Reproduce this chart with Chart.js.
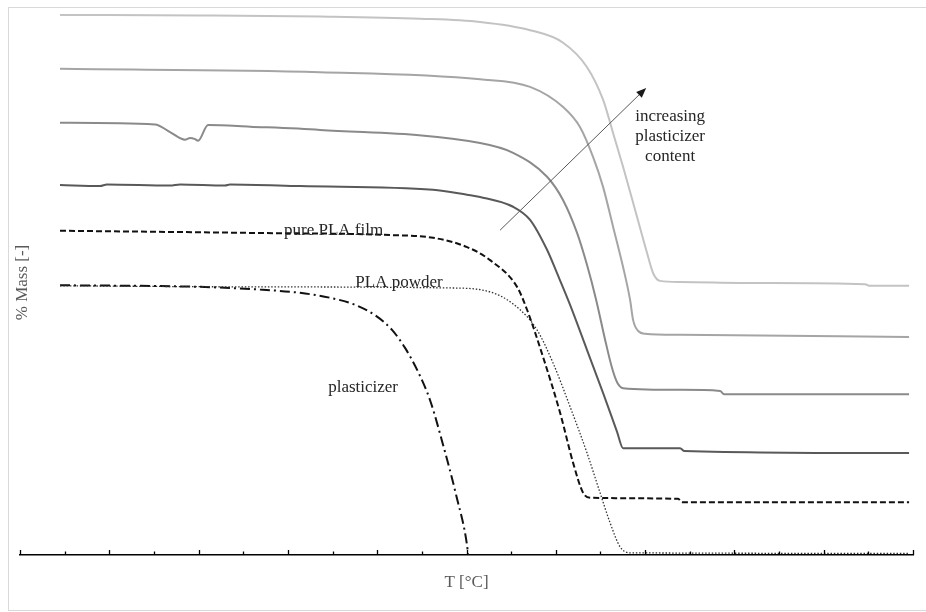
<!DOCTYPE html>
<html>
<head>
<meta charset="utf-8">
<script src="https://cdn.jsdelivr.net/npm/chart.js@4/dist/chart.umd.min.js"></script>
<style>
  html, body { margin: 0; padding: 0; background: #fff; }
  #wrap { width: 926px; height: 612px; position: relative; }
</style>
</head>
<body>
<div id="wrap"><canvas id="tga"></canvas></div>
<script>
// x axis: temperature (no labels in the original), 0..500 with a tick every 25
const tempMin = 0;
const tempMax = 500;
const tempStep = 25;

// each series: [temperature, % mass] (curves are stacked, no y labels)
const film4 = [[22.4,99.1],[100.8,99.0],[168,98.8],[224,98.4],[257.6,97.8],[285.6,96.3],[304.1,94.0],[317.5,89.5],[326.5,83.5],[332.1,77.4],[337.7,71.2],[345.5,62.0],[351.1,55.4],[354.5,51.7],[358.4,50.3],[369.6,50.1],[414.4,49.9],[473.2,49.7],[475.4,49.4],[497.8,49.4]];
const film3 = [[22.4,89.2],[168,88.6],[257.6,87.3],[285.6,85.9],[304.1,82.2],[313.6,78.5],[320.9,73.0],[326.5,67.5],[332.1,60.2],[337.7,52.8],[341.6,46.8],[343.3,43.1],[346.1,41.1],[350,40.6],[369.6,40.4],[497.8,40.0]];
const film2 = [[22.4,79.3],[75.6,79.0],[84,77.6],[92.4,76.2],[95.2,76.5],[98,76.3],[99.7,76.0],[105.3,78.9],[128.8,78.6],[168,78.0],[257.6,75.6],[276.1,73.8],[295.1,69.4],[304.1,65.1],[311.9,59.1],[317.5,53.2],[322.6,46.8],[327.6,39.5],[331.5,34.3],[334.3,31.7],[337.7,30.6],[369.6,30.3],[392,30.1],[394.2,29.5],[497.8,29.5]];
const film1 = [[22.4,67.9],[44.8,67.7],[48.7,68.0],[84,67.8],[89.6,68.0],[114.8,67.8],[117.6,68.0],[156.8,67.7],[231.3,67.0],[250.3,66.1],[257.6,65.7],[276.1,63.9],[285.6,61.5],[295.1,56.0],[300.7,51.7],[308,45.9],[317.5,37.6],[326.5,29.7],[334.3,22.6],[337.7,19.6],[369.6,19.6],[371.8,19.1],[497.8,18.7]];
const pureFilm = [[22.4,59.5],[128.8,59.1],[207.2,58.7],[231.3,58.2],[250.3,56.5],[263.2,54.1],[278.3,49.2],[283.9,45.0],[292.9,36.3],[302.4,26.1],[309.7,16.9],[315.3,11.4],[319.2,10.5],[368.5,10.3],[370.7,9.7],[497.8,9.7]];
const powder = [[22.4,49.4],[128.8,49.2],[240.8,49.0],[264.9,48.1],[280,45.0],[289.5,41.3],[298.5,35.2],[308,27.2],[317.5,18.7],[324.8,11.4],[330.4,5.9],[336,1.5],[341.6,0.4],[497.8,0.3]];
const plasticizer = [[22.4,49.5],[100.8,49.2],[134.4,48.7],[156.8,48.1],[173.6,47.2],[187.6,45.9],[198.8,44.0],[208.3,41.3],[215.6,38.0],[222.9,33.6],[229.6,28.4],[236.9,20.2],[244.2,11.0],[250.3,1.8],[250.9,0]];

const toXY = arr => arr.map(p => ({ x: p[0], y: p[1] }));

// text labels in the plot
const notes = [
  { text: ['pure PLA film'], x: 175.6, y: 58.7 },
  { text: ['PLA powder'], x: 212.2, y: 49.1 },
  { text: ['plasticizer'], x: 192.1, y: 29.9 },
  { text: ['increasing', 'plasticizer', 'content'], x: 364, y: 79.6 }
];
const arrowFrom = [268.8, 59.6];
const arrowTo = [350.6, 85.7];

const serif = '"Liberation Serif", "Times New Roman", serif';

const framePlugin = {
  id: 'frame',
  beforeDraw(chart) {
    const ctx = chart.ctx;
    ctx.save();
    ctx.fillStyle = '#fff';
    ctx.fillRect(0, 0, chart.width, chart.height);
    ctx.strokeStyle = '#d9d9d9';
    ctx.lineWidth = 1;
    ctx.strokeRect(8.5, 7.5, 930, 603);
    ctx.restore();
  }
};

const extrasPlugin = {
  id: 'extras',
  afterDraw(chart) {
    const ctx = chart.ctx;
    const xs = chart.scales.x, ys = chart.scales.y;
    const base = chart.chartArea.bottom;
    ctx.save();
    // tick marks pointing up into the plot
    ctx.strokeStyle = '#000';
    ctx.lineWidth = 1.3;
    xs.ticks.forEach((t, i) => {
      const px = Math.round(xs.getPixelForValue(t.value)) + 0.5;
      const len = i % 2 === 0 ? 5 : 3.5;
      ctx.beginPath();
      ctx.moveTo(px, base);
      ctx.lineTo(px, base - len);
      ctx.stroke();
    });

    // notes
    ctx.fillStyle = '#262626';
    ctx.font = '17px ' + serif;
    ctx.textAlign = 'center';
    ctx.textBaseline = 'alphabetic';
    notes.forEach(n => {
      const px = xs.getPixelForValue(n.x);
      const py = ys.getPixelForValue(n.y);
      n.text.forEach((line, k) => ctx.fillText(line, px, py + k * 20));
    });

    // arrow
    const x1 = xs.getPixelForValue(arrowFrom[0]), y1 = ys.getPixelForValue(arrowFrom[1]);
    const x2 = xs.getPixelForValue(arrowTo[0]), y2 = ys.getPixelForValue(arrowTo[1]);
    const ang = Math.atan2(y2 - y1, x2 - x1);
    ctx.strokeStyle = '#595959';
    ctx.fillStyle = '#1a1a1a';
    ctx.lineWidth = 1;
    ctx.beginPath();
    ctx.moveTo(x1, y1);
    ctx.lineTo(x2 - 8 * Math.cos(ang), y2 - 8 * Math.sin(ang));
    ctx.stroke();
    ctx.beginPath();
    ctx.moveTo(x2, y2);
    ctx.lineTo(x2 - 10 * Math.cos(ang) + 4 * Math.sin(ang), y2 - 10 * Math.sin(ang) - 4 * Math.cos(ang));
    ctx.lineTo(x2 - 10 * Math.cos(ang) - 4 * Math.sin(ang), y2 - 10 * Math.sin(ang) + 4 * Math.cos(ang));
    ctx.closePath();
    ctx.fill();
    ctx.restore();
  }
};

const line = (label, pts, color, width, dash) => ({
  label: label,
  data: toXY(pts),
  borderColor: color,
  borderWidth: width,
  borderDash: dash || [],
  pointRadius: 0,
  fill: false,
  cubicInterpolationMode: 'monotone'
});

new Chart(document.getElementById('tga').getContext('2d'), {
  type: 'line',
  data: {
    datasets: [
      line('film, highest plasticizer', film4, '#c3c3c3', 2),
      line('film 3', film3, '#a5a5a5', 2),
      line('film 2', film2, '#8a8a8a', 2),
      line('film 1', film1, '#595959', 2),
      line('pure PLA film', pureFilm, '#111', 2, [6, 3]),
      line('PLA powder', powder, '#333', 1.3, [1.5, 1.8]),
      line('plasticizer', plasticizer, '#111', 2, [10, 4, 2, 4])
    ]
  },
  options: {
    responsive: true,
    maintainAspectRatio: false,
    devicePixelRatio: 1,
    animation: false,
    layout: { padding: { top: 10, right: 13, left: 0, bottom: 0 } },
    plugins: { legend: { display: false }, tooltip: { enabled: false } },
    scales: {
      x: {
        type: 'linear',
        min: tempMin,
        max: tempMax,
        ticks: { display: false, stepSize: tempStep },
        grid: { display: false },
        border: { display: true, color: '#000', width: 1.5 },
        title: { display: true, text: 'T [°C]', color: '#595959', font: { family: serif, size: 17 }, padding: { top: 0, bottom: 19 } },
        afterFit(scale) { scale.height = 57; }
      },
      y: {
        min: 0,
        max: 100,
        ticks: { display: false },
        grid: { display: false },
        border: { display: false },
        title: { display: true, text: '% Mass [-]', color: '#595959', font: { family: serif, size: 17 }, padding: { top: 12, bottom: 0 } },
        afterFit(scale) { scale.width = 20; }
      }
    }
  },
  plugins: [framePlugin, extrasPlugin]
});
</script>
</body>
</html>
